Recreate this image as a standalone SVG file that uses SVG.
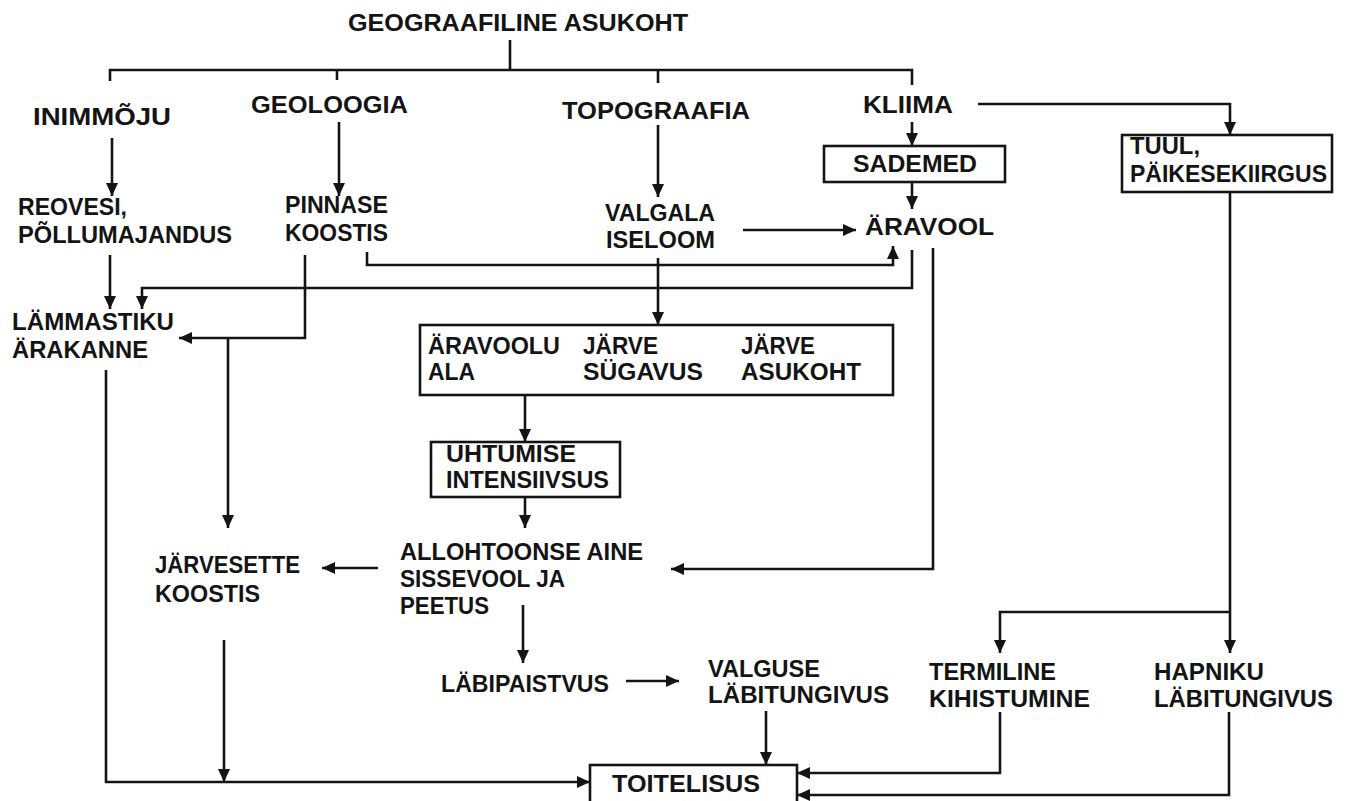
<svg xmlns="http://www.w3.org/2000/svg" width="1351" height="801" viewBox="0 0 1351 801">
<style>
text{font-family:"Liberation Sans",Arial,sans-serif;font-weight:bold;font-size:23px;fill:#141414}
.c{fill:none;stroke:#141414;stroke-width:2.6}
.b{fill:#fff;stroke:#141414;stroke-width:2.6}
</style>
<defs>
<marker id="a" markerUnits="userSpaceOnUse" markerWidth="14" markerHeight="13" refX="13" refY="6.5" orient="auto">
<path d="M0,0.5 L13,6.5 L0,12.5 z" fill="#141414"/>
</marker>
</defs>
<rect width="1351" height="801" fill="#fff"/>
<g id="connectors">
<path class="c" d="M510,40 V70"/>
<path class="c" d="M110,81 V70 H912 V85"/>
<path class="c" d="M337,70 V80"/>
<path class="c" d="M658,70 V83"/>
<path class="c" d="M112,138 V196" marker-end="url(#a)"/>
<path class="c" d="M339,122 V196" marker-end="url(#a)"/>
<path class="c" d="M658,125 V197" marker-end="url(#a)"/>
<path class="c" d="M912,122 V146" marker-end="url(#a)"/>
<path class="c" d="M978,104 H1230 V135" marker-end="url(#a)"/>
<path class="c" d="M912,182 V209" marker-end="url(#a)"/>
<path class="c" d="M743,230 H856" marker-end="url(#a)"/>
<path class="c" d="M367,252 V265 H893 V246" marker-end="url(#a)"/>
<path class="c" d="M912,250 V288 H142 V309" marker-end="url(#a)"/>
<path class="c" d="M110,255 V309" marker-end="url(#a)"/>
<path class="c" d="M305,255 V338 H179" marker-end="url(#a)"/>
<path class="c" d="M228,338 V528" marker-end="url(#a)"/>
<path class="c" d="M658,258 V325" marker-end="url(#a)"/>
<path class="c" d="M525,395 V442" marker-end="url(#a)"/>
<path class="c" d="M525,497 V528" marker-end="url(#a)"/>
<path class="c" d="M933,248 V569 H671" marker-end="url(#a)"/>
<path class="c" d="M378,568 H322" marker-end="url(#a)"/>
<path class="c" d="M523,605 V663" marker-end="url(#a)"/>
<path class="c" d="M626,681 H679" marker-end="url(#a)"/>
<path class="c" d="M766,711 V765" marker-end="url(#a)"/>
<path class="c" d="M106,370 V782 H590" marker-end="url(#a)"/>
<path class="c" d="M224,640 V782" marker-end="url(#a)"/>
<path class="c" d="M1230,192 V653" marker-end="url(#a)"/>
<path class="c" d="M1230,612 H1000 V653" marker-end="url(#a)"/>
<path class="c" d="M1000,712 V773 H797" marker-end="url(#a)"/>
<path class="c" d="M1229,712 V795 H797" marker-end="url(#a)"/>
</g>
<g id="geograafiline"><text x="348" y="31" textLength="340" lengthAdjust="spacingAndGlyphs">GEOGRAAFILINE ASUKOHT</text></g>
<g id="inimmoju"><text x="33" y="125" textLength="138" lengthAdjust="spacingAndGlyphs">INIMMÕJU</text></g>
<g id="geoloogia"><text x="251" y="113" textLength="157" lengthAdjust="spacingAndGlyphs">GEOLOOGIA</text></g>
<g id="topograafia"><text x="562" y="119" textLength="188" lengthAdjust="spacingAndGlyphs">TOPOGRAAFIA</text></g>
<g id="kliima"><text x="863" y="113" textLength="90" lengthAdjust="spacingAndGlyphs">KLIIMA</text></g>
<g id="sademed"><rect class="b" x="824" y="146" width="181" height="36"/><text x="853" y="172" textLength="124" lengthAdjust="spacingAndGlyphs">SADEMED</text></g>
<g id="tuul"><rect class="b" x="1122" y="135" width="210" height="57"/><text x="1130" y="154" textLength="70" lengthAdjust="spacingAndGlyphs">TUUL,</text><text x="1130" y="182" textLength="197" lengthAdjust="spacingAndGlyphs">PÄIKESEKIIRGUS</text></g>
<g id="aravool"><text x="865" y="235" textLength="129" lengthAdjust="spacingAndGlyphs">ÄRAVOOL</text></g>
<g id="reovesi"><text x="18" y="215" textLength="109" lengthAdjust="spacingAndGlyphs">REOVESI,</text><text x="18" y="243" textLength="214" lengthAdjust="spacingAndGlyphs">PÕLLUMAJANDUS</text></g>
<g id="pinnase"><text x="285" y="213" textLength="103" lengthAdjust="spacingAndGlyphs">PINNASE</text><text x="285" y="241" textLength="103" lengthAdjust="spacingAndGlyphs">KOOSTIS</text></g>
<g id="valgala"><text x="605" y="221" textLength="110" lengthAdjust="spacingAndGlyphs">VALGALA</text><text x="606" y="248" textLength="109" lengthAdjust="spacingAndGlyphs">ISELOOM</text></g>
<g id="lammastiku"><text x="12" y="330" textLength="162" lengthAdjust="spacingAndGlyphs">LÄMMASTIKU</text><text x="12" y="358" textLength="136" lengthAdjust="spacingAndGlyphs">ÄRAKANNE</text></g>
<g id="jarve-box"><rect class="b" x="420" y="325" width="473" height="70"/>
<text x="428" y="354" textLength="132" lengthAdjust="spacingAndGlyphs">ÄRAVOOLU</text><text x="428" y="380" textLength="47" lengthAdjust="spacingAndGlyphs">ALA</text>
<text x="583" y="354" textLength="75" lengthAdjust="spacingAndGlyphs">JÄRVE</text><text x="583" y="380" textLength="120" lengthAdjust="spacingAndGlyphs">SÜGAVUS</text>
<text x="741" y="354" textLength="74" lengthAdjust="spacingAndGlyphs">JÄRVE</text><text x="741" y="380" textLength="120" lengthAdjust="spacingAndGlyphs">ASUKOHT</text></g>
<g id="uhtumise"><rect class="b" x="431" y="442" width="189" height="55"/><text x="446" y="462" textLength="130" lengthAdjust="spacingAndGlyphs">UHTUMISE</text><text x="446" y="488" textLength="163" lengthAdjust="spacingAndGlyphs">INTENSIIVSUS</text></g>
<g id="allohtoonse"><text x="400" y="560" textLength="243" lengthAdjust="spacingAndGlyphs">ALLOHTOONSE AINE</text><text x="400" y="587" textLength="165" lengthAdjust="spacingAndGlyphs">SISSEVOOL JA</text><text x="400" y="614" textLength="89" lengthAdjust="spacingAndGlyphs">PEETUS</text></g>
<g id="jarvesette"><text x="155" y="573" textLength="145" lengthAdjust="spacingAndGlyphs">JÄRVESETTE</text><text x="155" y="602" textLength="105" lengthAdjust="spacingAndGlyphs">KOOSTIS</text></g>
<g id="labipaistvus"><text x="441" y="692" textLength="168" lengthAdjust="spacingAndGlyphs">LÄBIPAISTVUS</text></g>
<g id="valguse"><text x="708" y="677" textLength="112" lengthAdjust="spacingAndGlyphs">VALGUSE</text><text x="708" y="703" textLength="181" lengthAdjust="spacingAndGlyphs">LÄBITUNGIVUS</text></g>
<g id="termiline"><text x="929" y="680" textLength="127" lengthAdjust="spacingAndGlyphs">TERMILINE</text><text x="929" y="707" textLength="161" lengthAdjust="spacingAndGlyphs">KIHISTUMINE</text></g>
<g id="hapniku"><text x="1154" y="680" textLength="110" lengthAdjust="spacingAndGlyphs">HAPNIKU</text><text x="1154" y="707" textLength="179" lengthAdjust="spacingAndGlyphs">LÄBITUNGIVUS</text></g>
<g id="toitelisus"><rect class="b" x="590" y="765" width="207" height="50"/><text x="612" y="792" textLength="148" lengthAdjust="spacingAndGlyphs">TOITELISUS</text></g>
</svg>
